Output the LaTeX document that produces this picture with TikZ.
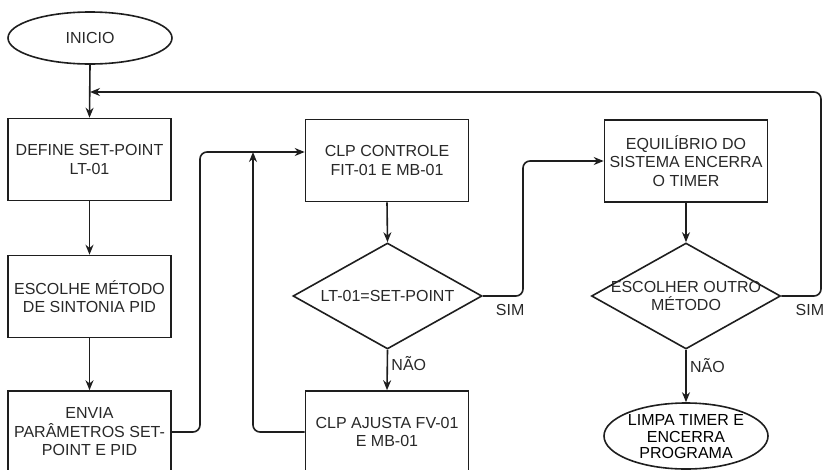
\documentclass[tikz,border=0pt]{standalone}
\usepackage{fontspec}
\setmainfont{Liberation Sans}
\usepackage{tikz}
\usetikzlibrary{positioning, arrows.meta, shapes.geometric, calc}
\definecolor{lineDark}{RGB}{30,30,30}
\definecolor{textDark}{RGB}{40,40,40}

\begin{document}
\begin{tikzpicture}[
    x=1pt, y=-1pt,
    font=\fontsize{16}{18.5}\selectfont\color{textDark},
    box/.style={rectangle, draw=lineDark, line width=1.6pt, minimum width=163pt,
        minimum height=82pt, align=center, inner sep=1pt},
    term/.style={ellipse, draw=lineDark, line width=1.6pt, minimum width=164pt,
        align=center, inner sep=0pt},
    dec/.style={diamond, draw=lineDark, line width=1.6pt, minimum width=189pt,
        minimum height=106pt, inner sep=0pt},
    arr/.style={-{Stealth[length=10pt, width=8pt]}, line width=1.6pt, lineDark,
        rounded corners=7pt},
    lbl/.style={text=textDark}
]
\path[use as bounding box, clip] (0,0) rectangle (826,469);

\node[term, minimum height=52pt] (inicio) at (90,38) {INICIO};
\node[box] (define)  at (89.5,159.5) {DEFINE SET-POINT\\LT-01};
\node[box] (escolhe) at (89.5,296.5) {ESCOLHE MÉTODO\\DE SINTONIA PID};
\node[box] (envia)   at (89.5,432)   {ENVIA\\PARÂMETROS SET-\\POINT E PID};
\node[box] (clpc)    at (387,160.5)  {CLP CONTROLE\\FIT-01 E MB-01};
\node[dec, label={[align=center]center:LT-01=SET-POINT}] (tstsp) at (387.5,296) {};
\node[box] (clpa)    at (387,432)    {CLP AJUSTA FV-01\\E MB-01};
\node[box] (equil)   at (686,161)    {EQUILÍBRIO DO\\SISTEMA ENCERRA\\O TIMER};
\node[dec, label={[align=center]center:{ESCOLHER OUTRO\\MÉTODO}}] (tstmet) at (686,296) {};
\node[term, minimum height=66pt,
    label={[align=center, font=\fontsize{16}{16.5}\selectfont, yshift=-1pt]center:{LIMPA TIMER E\\ENCERRA\\PROGRAMA}}] (limpa) at (686,436) {};

\coordinate (up1)   at (200,152);
\coordinate (merge) at (253,152);
\coordinate (up2)   at (523,161);
\coordinate (ret)   at (821,92);

\foreach \a/\b in {inicio/define, define/escolhe, escolhe/envia, clpc/tstsp, equil/tstmet}
    \draw[arr] (\a.south) -- (\b.north);

\draw[arr] (tstsp.south) -- node[lbl, right, pos=0.35] {NÃO} (clpa.north);
\draw[arr] (tstmet.south) -- node[lbl, right, pos=0.3] {NÃO} (limpa.north);

% laços de volta
\draw[arr] (envia.east) -| (up1) -- (clpc.west |- up1);
\draw[arr] (clpa.west) -| (merge);
\draw[arr] (tstsp.east) -| node[lbl, below, pos=0.34, yshift=-4pt] {SIM} (up2) -- (equil.west);
\draw[arr] (tstmet.east) -| node[lbl, below, pos=0.36, yshift=-4pt] {SIM} (ret)
    -- (inicio.south |- ret);
\end{tikzpicture}
\end{document}
